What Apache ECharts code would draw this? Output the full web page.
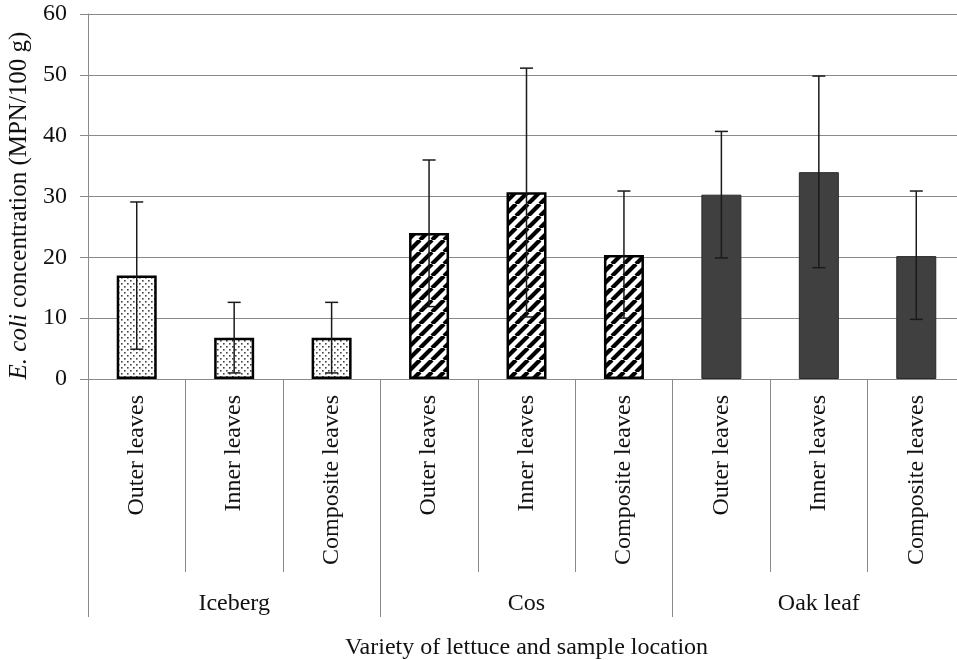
<!DOCTYPE html>
<html>
<head>
<meta charset="utf-8">
<title>E. coli concentration by lettuce variety</title>
<script src="https://cdn.jsdelivr.net/npm/echarts@6/dist/echarts.min.js"></script>
<style>
  html, body { margin: 0; padding: 0; background: #fff; }
  #chart { width: 957px; height: 660px; }
</style>
</head>
<body>
<div id="chart"></div>
<script>
const locations = ['Outer leaves', 'Inner leaves', 'Composite leaves',
  'Outer leaves', 'Inner leaves', 'Composite leaves',
  'Outer leaves', 'Inner leaves', 'Composite leaves']
const varieties = ['Iceberg', 'Cos', 'Oak leaf']
// which variety each bar belongs to
const varietyOf = [0, 0, 0, 1, 1, 1, 2, 2, 2]
const means = [17.0, 6.8, 6.8, 24.0, 30.7, 20.4, 30.3, 34.0, 20.2]
const errLow = [4.9, 1.0, 1.0, 11.9, 10.2, 10.0, 19.9, 18.3, 9.8]
const errHigh = [29.1, 12.6, 12.6, 36.0, 51.1, 30.9, 40.7, 49.8, 30.9]
const yTicks = [0, 10, 20, 30, 40, 50, 60]

const FONT = "'Liberation Serif', 'Times New Roman', serif"

// fill patterns
function dotPattern() {
  const c = document.createElement('canvas')
  c.width = 6; c.height = 6
  const g = c.getContext('2d')
  g.fillStyle = '#fff'; g.fillRect(0, 0, 6, 6)
  g.fillStyle = '#444'
  g.fillRect(1, 1, 1.6, 1.6)
  g.fillRect(4, 4, 1.6, 1.6)
  return c
}
function hatchPattern() {
  const s = 12
  const c = document.createElement('canvas')
  c.width = s; c.height = s
  const g = c.getContext('2d')
  g.fillStyle = '#fff'; g.fillRect(0, 0, s, s)
  g.strokeStyle = '#000'; g.lineWidth = 4.2
  g.beginPath()
  for (let k = -1; k <= 1; k++) {
    g.moveTo(k * s, s); g.lineTo(k * s + s, 0)
  }
  g.stroke()
  return c
}

const styles = [
  { color: { image: dotPattern(), repeat: 'repeat' }, borderColor: '#000', borderWidth: 2.5 },
  { color: { image: hatchPattern(), repeat: 'repeat' }, borderColor: '#000', borderWidth: 2.5 },
  { color: '#404040', borderColor: '#2a2a2a', borderWidth: 1 }
]

const chart = echarts.init(document.getElementById('chart'))
chart.setOption({
  animation: false,
  grid: { left: 88, top: 14, width: 877, height: 365, outerBoundsMode: 'none', containLabel: false },
  xAxis: [
    {
      type: 'category',
      data: locations,
      axisLine: { lineStyle: { color: '#8a8a8a', width: 1 } },
      axisTick: { show: true, length: 193, interval: 0, lineStyle: { color: '#8a8a8a' } },
      axisLabel: {
        rotate: 90, margin: 16, interval: 0,
        color: '#111', fontFamily: FONT, fontSize: 24
      },
      splitLine: { show: false }
    },
    {
      type: 'category',
      data: varieties,
      position: 'bottom',
      axisLine: { show: false },
      axisTick: { show: true, length: 238, interval: 0, lineStyle: { color: '#8a8a8a' } },
      axisLabel: { margin: 213, interval: 0, color: '#111', fontFamily: FONT, fontSize: 24 },
      name: 'Variety of lettuce and sample location',
      nameLocation: 'middle',
      nameGap: 257,
      nameTextStyle: { color: '#111', fontFamily: FONT, fontSize: 24 }
    }
  ],
  yAxis: {
    type: 'value',
    min: 0, max: 60, interval: 10,
    axisLine: { show: true, lineStyle: { color: '#8a8a8a' } },
    axisTick: { show: true, length: 8, lineStyle: { color: '#8a8a8a' } },
    axisLabel: {
      margin: 21, color: '#111', fontFamily: FONT, fontSize: 24,
      formatter: (v) => (yTicks.includes(v) ? String(v) : '')
    },
    splitLine: { lineStyle: { color: '#8a8a8a', width: 1 } },
    name: '{i|E. coli} concentration (MPN/100 g)',
    nameLocation: 'middle',
    nameGap: 54,
    nameTextStyle: {
      color: '#111', fontFamily: FONT, fontSize: 25,
      padding: [0, 18, 0, 0],
      rich: { i: { fontStyle: 'italic', fontFamily: FONT, fontSize: 25, color: '#111' } }
    }
  },
  series: [
    {
      type: 'bar',
      xAxisIndex: 0,
      barWidth: 40,
      data: means.map((v, i) => ({ value: v, itemStyle: styles[varietyOf[i]] })),
      z: 2
    },
    {
      type: 'custom',
      xAxisIndex: 0,
      z: 5,
      data: means.map((v, i) => [i, errLow[i], errHigh[i]]),
      encode: { x: 0, y: [1, 2] },
      renderItem: (params, api) => {
        const lo = api.coord([api.value(0), api.value(1)])
        const hi = api.coord([api.value(0), api.value(2)])
        const half = 6.5
        const st = { stroke: '#1a1a1a', lineWidth: 1.5 }
        return {
          type: 'group',
          children: [
            { type: 'line', shape: { x1: hi[0], y1: hi[1], x2: lo[0], y2: lo[1] }, style: st },
            { type: 'line', shape: { x1: hi[0] - half, y1: hi[1], x2: hi[0] + half, y2: hi[1] }, style: st },
            { type: 'line', shape: { x1: lo[0] - half, y1: lo[1], x2: lo[0] + half, y2: lo[1] }, style: st }
          ]
        }
      }
    }
  ]
})
</script>
</body>
</html>
